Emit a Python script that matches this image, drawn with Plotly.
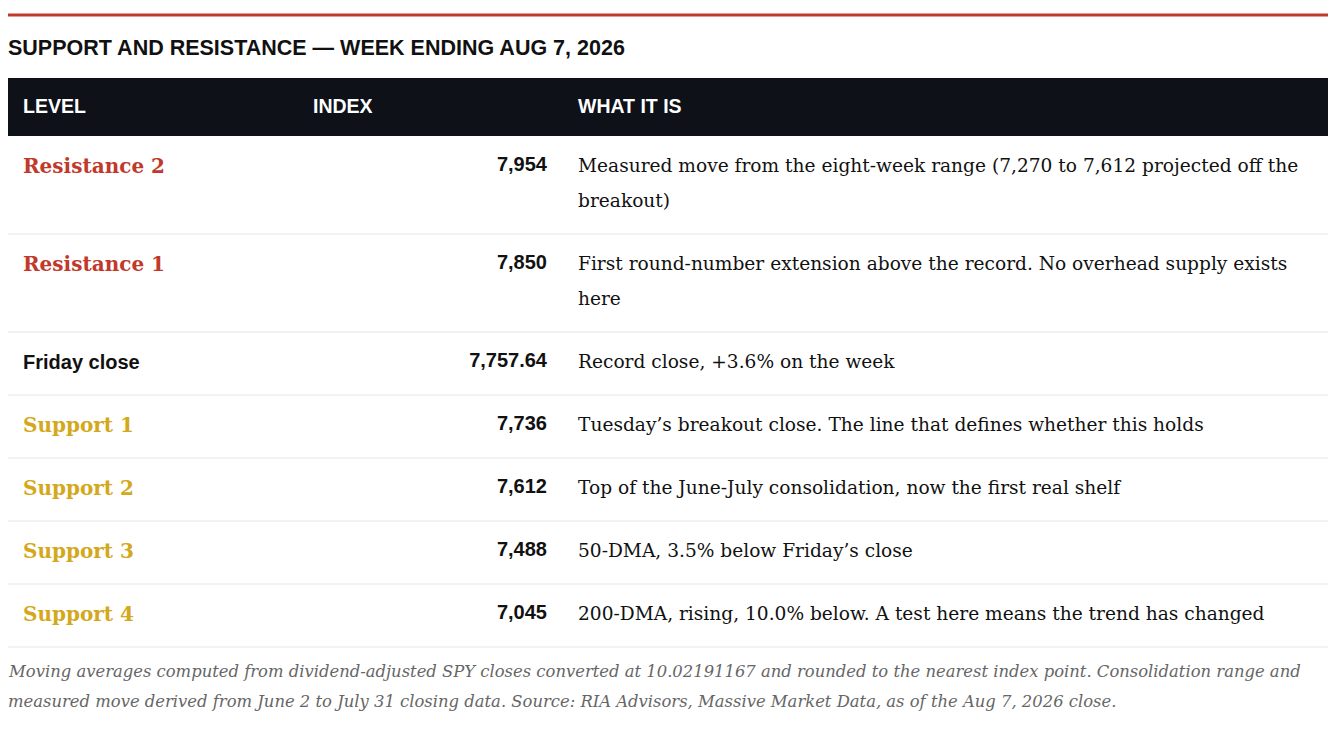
import textwrap
import plotly.graph_objects as go

# --- Table data ---
title = "SUPPORT AND RESISTANCE \u2014 WEEK ENDING AUG 7, 2026"
columns = ["LEVEL", "INDEX", "WHAT IT IS"]
levels = ["Resistance 2", "Resistance 1", "Friday close", "Support 1",
          "Support 2", "Support 3", "Support 4"]
kinds = ["resistance", "resistance", "close", "support", "support", "support", "support"]
index_values = ["7,954", "7,850", "7,757.64", "7,736", "7,612", "7,488", "7,045"]
descriptions = [
    "Measured move from the eight-week range (7,270 to 7,612 projected off the breakout)",
    "First round-number extension above the record. No overhead supply exists here",
    "Record close, +3.6% on the week",
    "Tuesday\u2019s breakout close. The line that defines whether this holds",
    "Top of the June-July consolidation, now the first real shelf",
    "50-DMA, 3.5% below Friday\u2019s close",
    "200-DMA, rising, 10.0% below. A test here means the trend has changed",
]
note = ("Moving averages computed from dividend-adjusted SPY closes converted at 10.02191167 "
        "and rounded to the nearest index point. Consolidation range and measured move derived "
        "from June 2 to July 31 closing data. Source: RIA Advisors, Massive Market Data, "
        "as of the Aug 7, 2026 close.")

# --- Styles ---
W, H = 1339, 738
OFF = 8  # page body margin, axes are in page pixels
LEFT, RIGHT = 8, 1328
RED = "#c0392b"
GOLD = "#d4a81c"
DARK = "#0e1118"
RULE = "#e6e6e6"
SANS = "Liberation Sans"
SERIF = "DejaVu Serif"
level_colors = {"resistance": RED, "support": GOLD, "close": "#111111"}

col_x = {"level": 23, "index": 547, "desc": 578}
header_x = [23, 313, 578]
header_top, header_bot = 78, 136
pad, line_h = 14, 35

# --- Row layout from wrapped text ---
wrapped = [textwrap.wrap(d, 74) for d in descriptions]
row_tops = []
y = header_bot
for lines in wrapped:
    row_tops.append(y)
    y += 2 * pad + line_h * len(lines)
row_tops.append(y)
table_bot = y

fig = go.Figure()

# level names
for kind in ["resistance", "support", "close"]:
    idx = [i for i, k in enumerate(kinds) if k == kind]
    serif = kind != "close"
    fig.add_trace(go.Scatter(
        x=[col_x["level"]] * len(idx),
        y=[row_tops[i] + pad + line_h / 2 for i in idx],
        text=[levels[i] for i in idx],
        mode="text", textposition="middle right",
        textfont=dict(family=SERIF if serif else SANS, size=20,
                      color=level_colors[kind], weight="bold"),
        hoverinfo="skip", cliponaxis=False))

# index values
fig.add_trace(go.Scatter(
    x=[col_x["index"]] * len(index_values),
    y=[t + pad + line_h / 2 - 2 for t in row_tops[:-1]],
    text=index_values, mode="text", textposition="middle left",
    textfont=dict(family=SANS, size=20, color="#111111", weight="bold"),
    hoverinfo="skip", cliponaxis=False))

# descriptions, one point per wrapped line
dx, dy, dt = [], [], []
for i, lines in enumerate(wrapped):
    for j, ln in enumerate(lines):
        dx.append(col_x["desc"])
        dy.append(row_tops[i] + pad + line_h / 2 + j * line_h)
        dt.append(ln)
fig.add_trace(go.Scatter(
    x=dx, y=dy, text=dt, mode="text", textposition="middle right",
    textfont=dict(family=SERIF, size=18.6, color="#111111"),
    hoverinfo="skip", cliponaxis=False))

# header labels
fig.add_trace(go.Scatter(
    x=header_x, y=[(header_top + header_bot) / 2 + 1] * 3, text=columns,
    mode="text", textposition="middle right",
    textfont=dict(family=SANS, size=19.5, color="white", weight="bold"),
    hoverinfo="skip", cliponaxis=False))

shapes = [
    dict(type="line", x0=LEFT, x1=RIGHT, y0=15, y1=15, line=dict(color=RED, width=3)),
    dict(type="rect", x0=LEFT, x1=RIGHT, y0=header_top, y1=header_bot,
         fillcolor=DARK, line=dict(width=0), layer="below"),
]
for yb in row_tops[1:]:
    shapes.append(dict(type="line", x0=LEFT, x1=RIGHT, y0=yb, y1=yb,
                       line=dict(color=RULE, width=1), layer="below"))

annotations = [dict(x=LEFT, y=48, xref="x", yref="y", text=f"<b>{title}</b>",
                    showarrow=False, xanchor="left", yanchor="middle",
                    borderpad=0, borderwidth=0,
                    font=dict(family=SANS, size=21.5, color="#111111"))]
for j, ln in enumerate(textwrap.wrap(note, 150)):
    annotations.append(dict(x=LEFT, y=table_bot + 24 + j * 30, xref="x", yref="y",
                            text=f"<i>{ln}</i>", showarrow=False,
                            xanchor="left", yanchor="middle",
                            borderpad=0, borderwidth=0,
                            font=dict(family=SERIF, size=16.4, color="#666666")))

fig.update_layout(
    width=W, height=H, margin=dict(l=0, r=0, t=0, b=0),
    paper_bgcolor="white", plot_bgcolor="white", showlegend=False,
    xaxis=dict(range=[OFF, W + OFF], visible=False, fixedrange=True),
    yaxis=dict(range=[H + OFF, OFF], visible=False, fixedrange=True),
    shapes=shapes, annotations=annotations,
)

fig.write_html("out.html")
